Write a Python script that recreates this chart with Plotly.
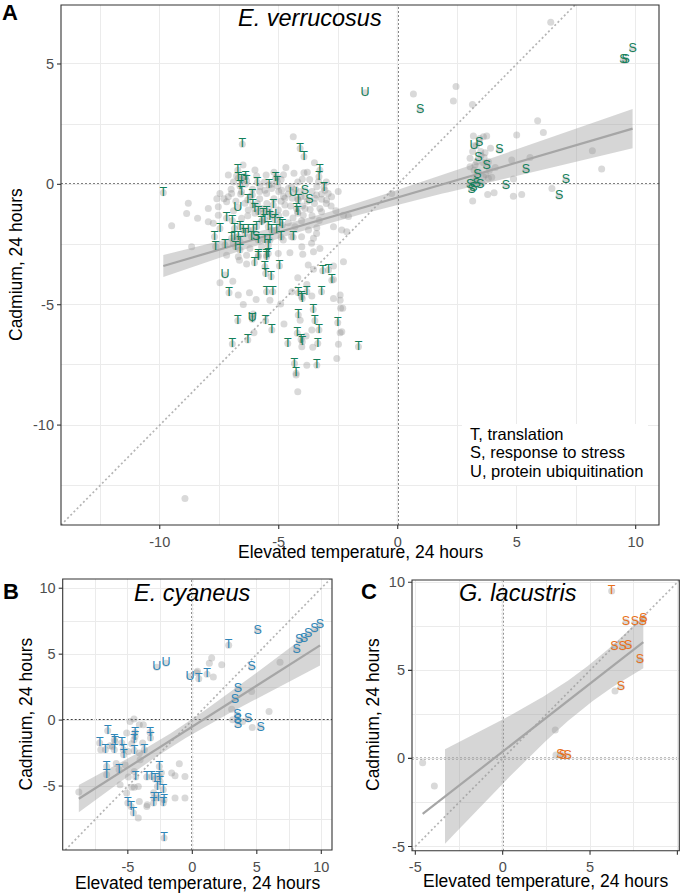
import numpy as np
import plotly.graph_objects as go

W, H = 685, 895
FONT = "Liberation Sans"

# ---------------- data: panel A (E. verrucosus) ----------------
a_lab_x = [-6.53, -4.10, -3.94, -3.27, -3.31, -3.10, -6.72, -6.70, -6.56, -6.39, -6.35, -6.63, -6.56,
           -5.90, -5.41, -5.13, -5.06, -4.39, -3.90, -3.71, -4.18, -4.25, -4.20, -6.11, -6.30, -6.09,
           -6.72, -6.00, -5.23, -7.19, -6.95, -6.86, -6.86, -7.47, -7.70, -7.65, -7.26,
           -5.86, -5.65, -5.51, -5.37, -5.25, -5.16, -4.95, -4.85, -5.72, -5.58, -5.44, -5.93, -6.07,
           -6.28, -6.49, -6.63, -6.70, -6.42, -6.14, -5.86, -5.58, -5.37, -5.30, -5.09, -4.90, -4.39,
           -5.44, -5.44, -5.51, -5.86, -6.63, -6.63, -6.81, -6.98, -5.95,
           -7.26, -7.09, -5.86, -5.51, -6.02, -5.58, -5.55, -5.32, -4.97, -5.51, -5.25, -4.18, -4.04,
           -3.82, -4.01, -3.20, -3.15, -2.91, -2.77, -6.72, -6.11, -6.11, -5.55, -5.29, -4.18, -3.55,
           -3.48, -3.31, -2.52, -6.95, -6.30, -4.62, -4.22, -4.06, -4.01, -3.36, -1.65, -4.34, -4.27,
           -3.40, -9.85,
           -1.37, 0.94, 9.87, 9.48, 9.58,
           3.21, 3.42, 4.27, 3.39, 3.74, 5.39, 3.35, 3.04, 3.18, 3.32, 3.46, 3.11, 4.55, 7.07, 6.78]
a_lab_y = [1.67, 1.49, 1.15, 0.59, 0.32, -0.13, 0.59, 0.25, 0.18, 0.32, 0.15, -0.07, -0.31,
           0.08, -0.03, 0.25, 0.11, -0.35, -0.26, -0.65, -0.65, -1.00, -1.14, -0.44, -0.65, -0.86,
           -0.96, -1.00, -0.86, -1.41, -1.51, -1.83, -2.18, -1.83, -2.18, -2.59, -2.52,
           -1.14, -1.21, -1.14, -1.34, -1.25, -1.48, -1.62, -1.69, -1.55, -1.48, -1.76, -1.76, -1.90,
           -1.90, -1.90, -1.76, -2.18, -2.04, -2.18, -2.31, -2.31, -2.31, -1.90, -1.90, -2.20, -2.20,
           -2.52, -2.87, -3.01, -3.01, -2.38, -2.73, -2.59, -2.24, -2.20,
           -3.77, -4.50, -2.94, -2.94, -3.26, -3.42, -3.70, -3.84, -3.39, -4.46, -4.46, -4.50, -4.67,
           -4.46, -4.74, -4.46, -3.59, -3.56, -3.98, -5.67, -5.53, -5.60, -5.67, -6.05, -5.43, -5.20,
           -5.67, -6.05, -5.75, -6.63, -6.47, -6.61, -6.19, -6.44, -6.54, -6.61, -6.75, -7.44, -7.85,
           -7.51, -0.35,
           3.81, 3.09, 5.62, 5.16, 5.16,
           1.60, 1.73, 1.42, 1.08, 0.76, 0.59, 0.39, -0.03, -0.13, 0.04, -0.03, -0.21, -0.07, 0.18, -0.49]
a_lab_txt = (["T"] * 17 + ["U", "S", "S"] + ["T"] * 6 + ["U"] + ["T"] * 10
             + ["T"] * 4 + ["U"] + ["T"] * 29 + ["S"]
             + ["U"] + ["T"] * 19 + ["U"] + ["T"] * 20
             + ["U", "S", "S", "S", "S"]
             + ["U"] + ["S"] * 14)

a_pt_x = [-4.39, -7.12, -5.93, -5.53, -4.36, -3.80, -4.01, -5.04, -4.88, -4.60, -4.46, -5.79, -5.58,
          -5.51, -5.30, -7.12, -7.19, -7.54, -7.96, -8.41, -6.42, -6.28, -6.56, -4.74, -4.43, -4.06,
          -3.48, -3.20, -2.99, -2.92, -3.41, -3.06, -3.27, -3.20, -3.68, -4.74, -5.02, -3.97, -4.04,
          -4.32, -3.75, -3.41, -3.54, -3.62, -3.27, -4.04, -4.46, -5.72, -6.21, -6.35, -6.70, -7.19,
          -6.91, -5.02, -4.53, -7.96, -7.75, -7.54, -2.70, -2.35, -2.14, -2.28, -2.07, -2.78,
          -6.77, -6.49, -5.08, -3.94, -8.80, -8.87, -7.47, -6.98, -9.50, -8.66, -3.33, -4.81, -4.03,
          -3.54, -6.65, -6.35, -6.93, -7.47, -6.70, -6.23, -5.95, -6.49, -6.07, -6.04, -5.37, -4.78,
          -4.92, -3.99, -3.76, -3.54, -4.20, -3.82, -4.45, -3.61, -4.10, -3.61, -3.85, -4.03, -4.27,
          -3.82, -4.20, -3.57, -2.70, -2.70, -2.28, -2.42, -2.42, -2.40, -2.42, -2.49, -2.56, -8.94,
          -2.70, -2.31, -2.35,
          # dense, heavily overlapped part of the main cluster
          -6.90, -6.40, -6.10, -5.80, -5.60, -5.30, -5.00, -4.80, -4.60, -4.30, -4.10, -3.90, -3.60,
          -3.40, -3.20, -3.00, -2.80, -3.50, -3.80, -4.00, -4.50, -4.90, -5.20, -5.50, -5.80, -6.20,
          -6.60, -7.00, -7.30, -6.80, -6.00, -5.70, -5.40, -5.00, -4.70, -4.40, -4.20, -3.90, -3.60,
          -3.30, -4.90, -4.20, -3.70, -5.20, -6.00, -6.50, -4.70, -3.50, -5.70, -6.30, -6.90, -7.60,
          -5.90, -4.20, -3.40, -4.60, -2.60, -2.50, -3.00, -4.80,
          6.43, 0.66, 2.45, 2.34, 3.14, 5.88, 6.12, 5.00, 8.18, 8.57, 6.48, 5.21, 4.86, 4.05, 3.78,
          3.15, 4.86, 5.56, 4.79, 3.18, 3.60, 3.74, 3.15, 3.49, 3.67, 3.04, 3.32, 3.63, 3.81, 3.04,
          3.21, 3.85, 3.60, 3.18, 3.81, -0.25,
          3.30, 3.50, 3.60, 3.40, 3.70, 3.25, 3.90, 3.30, 3.55, 4.10, 3.45, 3.95]
a_pt_y = [1.98, 0.39, 0.35, 0.39, 0.46, 0.50, 0.21, -0.07, -0.24, -0.17, -0.10, -0.10, -0.24,
          -0.38, -0.17, -0.51, -0.72, -0.93, -1.00, -1.41, -0.79, -1.07, -1.41, -0.58, -0.58, -0.51,
          -0.58, -0.62, -0.65, -0.38, -0.44, -0.24, -1.00, -1.14, -1.04, -0.86, -1.07, -1.28, -1.51,
          -1.76, -1.90, -2.04, -2.24, -2.45, -2.66, -2.18, -2.18, -2.59, -2.66, -2.94, -3.01, -2.94,
          -2.45, -2.87, -2.84, -1.55, -1.62, -1.28, -1.76, -1.90, -1.97, -1.28, -1.34, -0.51,
          0.35, 0.32, 0.32, 0.48, -0.79, -1.21, -0.38, -0.38, -1.72, -2.59, 0.11, -2.31, -2.59,
          -2.80, -3.15, -3.31, -4.02, -4.09, -4.60, -4.50, -4.78, -4.99, -5.39, -6.16, -4.81, -5.80,
          -4.97, -2.90, -3.35, -3.53, -3.88, -4.16, -4.46, -4.64, -5.64, -6.05, -6.30, -6.75, -7.92,
          -7.51, -8.62, -6.77, -3.39, -3.95, -3.21, -4.60, -4.81, -5.15, -6.16, -6.64, -7.23, -13.05,
          -4.74, -5.15, -6.12,
          0.10, 0.00, -0.20, -0.30, 0.10, 0.00, -0.30, -0.50, -0.40, -0.20, -0.30, -0.50, -0.30,
          -0.10, -0.40, -0.80, -0.90, -0.80, -0.70, -0.90, -0.90, -0.70, -0.60, -0.80, -0.60, -0.50,
          -0.40, -0.20, -0.60, -0.70, -1.20, -1.00, -1.10, -1.30, -1.20, -1.40, -1.20, -1.00, -1.30,
          -1.50, 0.20, 0.10, 0.20, 0.50, 0.60, 0.80, 0.70, 0.90, -1.50, -1.30, -1.10, -0.60,
          -0.80, -0.60, -1.80, -1.60, -1.10, -0.30, 0.10, 0.40,
          6.73, 3.75, 4.06, 3.46, 3.32, 2.64, 2.15, 2.05, 1.40, 0.64, -0.17, -0.42, -0.49, -0.35, -0.42,
          -0.69, 0.22, 1.12, 1.01, 2.01, 1.98, 2.01, 1.36, 1.36, 1.31, 1.08, 0.94, 1.12, 0.94, 0.73,
          0.59, 0.59, 0.32, 0.18, 0.25, -0.38,
          1.60, 1.20, 0.90, 0.50, 0.40, 0.80, 1.50, 0.20, 0.05, 0.70, 1.90, 0.30]

# ---------------- data: panel B (E. cyaneus) ----------------
b_lab_x = [5.07, 2.82, 8.09, 8.29, 8.66, 8.99, 9.46, 9.90, -2.76, -2.04, -0.18, 0.50, 1.14, 4.60,
           3.54, 3.31, 3.49, 3.54, 3.52, 4.34, 5.30,
           -6.56, -7.18, -6.74, -6.05, -6.05, -5.47, -5.35, -4.44, -4.44, -3.28, -3.24, -4.50, -3.72,
           -5.32, -6.64, -6.64, -5.68, -4.39, -3.53, -3.15, -2.89, -2.56, -2.56, -2.50, -2.25, -2.97,
           -2.64, -2.25, -3.00, -5.00, -4.75, -4.57, -2.19, -5.99, -4.52, -2.71, -2.19]
b_lab_y = [6.79, 5.68, 5.33, 6.08, 6.16, 6.52, 6.89, 7.22, 4.01, 4.32, 3.30, 3.13, 3.48, 4.01,
           2.37, 1.56, 0.40, -0.36, 0.05, 0.08, -0.56,
           -0.81, -1.74, -2.25, -1.49, -2.25, -1.74, -2.25, -0.94, -1.24, -0.94, -1.36, -2.30, -2.25,
           -2.63, -3.51, -4.14, -3.77, -4.32, -4.32, -4.27, -4.47, -3.51, -4.27, -4.65, -5.28, -5.91,
           -5.91, -6.29, -6.29, -6.29, -6.55, -7.05, -8.94, -1.62, -1.49, -5.03, -6.04]
b_lab_txt = (["S", "T"] + ["S"] * 6 + ["U", "U", "U", "T", "T"] + ["S"] * 8 + ["T"] * 37)

b_pt_x = [-8.80, -4.83, -4.52, -4.11, -3.80, -5.09, -6.38, -4.96, -4.05, -3.85, -1.01, -1.60,
          -1.34, -0.57, -1.34, -0.57, -4.96, -5.60, -4.19, -3.49, -4.11, -5.09, -4.19, -3.53,
          -7.10, -6.20, -4.70, -4.10, -5.90, -5.20, -4.50, -4.70, -4.50, -2.40, -3.00,
          0.34, 1.50, 1.32, 2.28, 1.63, 3.05, 3.13, 4.60, 5.95, 4.65, 6.80, 0.40, 3.90]
b_pt_y = [-5.45, -0.10, 0.08, -0.36, -0.36, -0.98, -1.95, -2.38, -3.00, -1.74, -3.31, -4.02,
          -4.22, -4.27, -5.91, -5.91, -4.32, -4.90, -5.03, -6.42, -6.17, -5.53, -7.42, -6.55,
          -2.25, -2.00, -1.80, -2.50, -3.30, -3.40, -3.90, -5.10, -5.10, -4.00, -5.50,
          3.60, 4.70, 4.32, 4.19, 3.26, 0.83, 0.02, 2.17, 0.65, -0.56, 4.39, 3.70, -0.10]

# ---------------- data: panel C (G. lacustris) ----------------
c_lab_x = [3.30, 3.45, 3.72, 6.77, 7.86, 6.39, 6.87, 7.19, 7.06, 7.57, 8.01, 8.05, 6.24]
c_lab_y = [0.19, 0.15, 0.13, 4.06, 5.57, 6.33, 6.33, 6.40, 7.74, 7.74, 7.74, 7.95, 9.50]
c_lab_txt = ["S"] * 12 + ["T"]
c_pt_x = [-4.58, -3.91, 3.01, 3.05, 6.43]
c_pt_y = [-0.25, -1.57, 1.62, 0.19, 3.83]

legend_lines = ["T, translation", "S, response to stress", "U, protein ubiquitination"]

# ---------------- helpers ----------------
def px(x):
    return x / W


def py(y):
    return 1 - y / H


def t975(df):
    z = 1.959964
    g1 = (z ** 3 + z) / 4
    g2 = (5 * z ** 5 + 16 * z ** 3 + 3 * z) / 96
    g3 = (3 * z ** 7 + 19 * z ** 5 + 17 * z ** 3 - 15 * z) / 384
    return z + g1 / df + g2 / df ** 2 + g3 / df ** 3


def lm_smooth(x, y, n=80):
    x = np.asarray(x, float)
    y = np.asarray(y, float)
    xm, ym = x.mean(), y.mean()
    sxx = ((x - xm) ** 2).sum()
    b = ((x - xm) * (y - ym)).sum() / sxx
    a = ym - b * xm
    res = y - (a + b * x)
    s2 = (res ** 2).sum() / (len(x) - 2)
    xs = np.linspace(x.min(), x.max(), n)
    fit = a + b * xs
    se = np.sqrt(s2 * (1 / len(x) + (xs - xm) ** 2 / sxx))
    t = t975(len(x) - 2)
    return xs, fit, fit - t * se, fit + t * se


def minor_vals(rng):
    lo = int(np.ceil(rng[0] / 2.5))
    hi = int(np.floor(rng[1] / 2.5))
    return [k * 2.5 for k in range(lo, hi + 1) if k % 2]


panels = [
    dict(lab_x=a_lab_x, lab_y=a_lab_y, txt=a_lab_txt, pt_x=a_pt_x, pt_y=a_pt_y,
         color="#14805b", xr=[-14.15, 10.98], yr=[-14.15, 7.45], xt=[-10, -5, 0, 5, 10],
         yt=[-10, -5, 0, 5], box=(61, 659, 5, 525), band_floor=None),
    dict(lab_x=b_lab_x, lab_y=b_lab_y, txt=b_lab_txt, pt_x=b_pt_x, pt_y=b_pt_y,
         color="#2f86b8", xr=[-10.05, 10.83], yr=[-9.85, 10.7], xt=[-5, 0, 5, 10],
         yt=[-5, 0, 5, 10], box=(62.7, 332, 579, 850), band_floor=None),
    dict(lab_x=c_lab_x, lab_y=c_lab_y, txt=c_lab_txt, pt_x=c_pt_x, pt_y=c_pt_y,
         color="#e8701a", xr=[-5.19, 10.11], yr=[-5.24, 10.13], xt=[-5, 0, 5, 10],
         yt=[-5, 0, 5, 10], box=(412, 679.3, 580, 850.7), band_floor=-5.0),
]

fig = go.Figure()
layout = dict(
    width=W, height=H, margin=dict(l=0, r=0, t=0, b=0, autoexpand=False),
    paper_bgcolor="white", plot_bgcolor="white", showlegend=False,
    font=dict(family=FONT, color="black"),
)
shapes = []
ZERO = dict(color="black", width=1.5, dash="2px,2px")
FRAME = "#333333"
TICK = 4

for i, p in enumerate(panels):
    sfx = "" if i == 0 else str(i + 1)
    xa, ya = "x" + sfx, "y" + sfx
    l, r, t, b = p["box"]
    axis_common = dict(
        automargin=False, showgrid=True, gridcolor="#EBEBEB", gridwidth=1.1, zeroline=False,
        showline=False, ticks="", ticklabelstandoff=TICK + 2,
        tickfont=dict(size=14.5, color="#4D4D4D", family=FONT),
    )
    xminor = dict(showgrid=True, gridcolor="#EBEBEB", gridwidth=0.6, tickvals=minor_vals(p["xr"]))
    yminor = dict(showgrid=True, gridcolor="#EBEBEB", gridwidth=0.6, tickvals=minor_vals(p["yr"]))
    layout["xaxis" + sfx] = dict(axis_common, domain=[px(l), px(r)], range=p["xr"],
                                 tickmode="array", tickvals=p["xt"],
                                 ticktext=[str(v) for v in p["xt"]], anchor=ya, minor=xminor)
    layout["yaxis" + sfx] = dict(axis_common, domain=[py(b), py(t)], range=p["yr"],
                                 tickmode="array", tickvals=p["yt"],
                                 ticktext=[str(v) for v in p["yt"]], anchor=xa, minor=yminor)

    # identity line
    lo = max(p["xr"][0], p["yr"][0])
    hi = min(p["xr"][1], p["yr"][1])
    fig.add_trace(go.Scatter(x=[lo, hi], y=[lo, hi], mode="lines", xaxis=xa, yaxis=ya,
                             line=dict(color="#B5B5B5", width=1.7, dash="2px,2.5px"),
                             hoverinfo="skip"))
    # zero lines
    shapes.append(dict(type="line", xref=xa, yref=ya + " domain", x0=0, x1=0, y0=0, y1=1,
                       line=ZERO, layer="below"))
    shapes.append(dict(type="line", xref=xa + " domain", yref=ya, x0=0, x1=1, y0=0, y1=0,
                       line=ZERO, layer="below"))
    # panel border and tick marks
    shapes.append(dict(type="rect", xref=xa + " domain", yref=ya + " domain", x0=0, x1=1,
                       y0=0, y1=1, line=dict(color=FRAME, width=1.1), layer="above"))
    for v in p["xt"]:
        shapes.append(dict(type="line", xref=xa, yref="paper", x0=v, x1=v,
                           y0=py(b), y1=py(b + TICK), line=dict(color=FRAME, width=1.1)))
    for v in p["yt"]:
        shapes.append(dict(type="line", xref="paper", yref=ya, y0=v, y1=v,
                           x0=px(l), x1=px(l - TICK), line=dict(color=FRAME, width=1.1)))

    all_x = list(p["pt_x"]) + list(p["lab_x"])
    all_y = list(p["pt_y"]) + list(p["lab_y"])
    fig.add_trace(go.Scatter(x=all_x, y=all_y, mode="markers", xaxis=xa, yaxis=ya,
                             marker=dict(size=7, color="rgba(128,128,128,0.3)", line=dict(width=0))))

    xs, fit, lwr, upr = lm_smooth(all_x, all_y)
    keep = np.ones_like(xs, bool) if p["band_floor"] is None else lwr >= p["band_floor"]
    bx, bl, bu = xs[keep], lwr[keep], upr[keep]
    fig.add_trace(go.Scatter(x=np.concatenate([bx, bx[::-1]]), y=np.concatenate([bu, bl[::-1]]),
                             mode="lines", fill="toself", fillcolor="rgba(153,153,153,0.4)",
                             line=dict(width=0), xaxis=xa, yaxis=ya, hoverinfo="skip"))
    fig.add_trace(go.Scatter(x=xs, y=fit, mode="lines", xaxis=xa, yaxis=ya,
                             line=dict(color="#A6A6A6", width=2.2)))

    fig.add_trace(go.Scatter(x=p["lab_x"], y=p["lab_y"], text=p["txt"], mode="text",
                             xaxis=xa, yaxis=ya, textposition="middle center",
                             textfont=dict(size=12.5, color=p["color"], family=FONT)))

# legend box in panel A
shapes.append(dict(type="rect", xref="paper", yref="paper", x0=px(462), x1=px(648),
                   y0=py(485), y1=py(424), fillcolor="white", line=dict(width=0), layer="above"))

ann = []


def note(x, y, text, size, **kw):
    d = dict(x=px(x), y=py(y), xref="paper", yref="paper", text=text, showarrow=False,
             font=dict(size=size, color="black", family=FONT), xanchor="center", yanchor="middle")
    d.update(kw)
    ann.append(d)


note(10, 12.5, "<b>A</b>", 22)
note(11, 591.5, "<b>B</b>", 22)
note(369, 591.5, "<b>C</b>", 22)
note(310, 18, "<i>E. verrucosus</i>", 23.5)
note(192.5, 593, "<i>E. cyaneus</i>", 23.5)
note(518, 593, "<i>G. lacustris</i>", 23.5)
note(360, 552, "Elevated temperature, 24 hours", 17.5)
note(197, 883, "Elevated temperature, 24 hours", 17.5)
note(545.6, 881, "Elevated temperature, 24 hours", 17.5)
note(16, 265, "Cadmium, 24 hours", 17.5, textangle=-90)
note(25, 714.5, "Cadmium, 24 hours", 17.5, textangle=-90)
note(373, 715, "Cadmium, 24 hours", 17.5, textangle=-90)
for k, line in enumerate(legend_lines):
    note(468, 434 + 18.4 * k, line, 16.5, xanchor="left")

layout["shapes"] = shapes
layout["annotations"] = ann
fig.update_layout(**layout)

# the page body has a default 8px margin; drop it so the figure sits at the window corner
fig.write_html("out.html", config={"displayModeBar": False},
               post_script="document.body.style.margin = '0px';")
